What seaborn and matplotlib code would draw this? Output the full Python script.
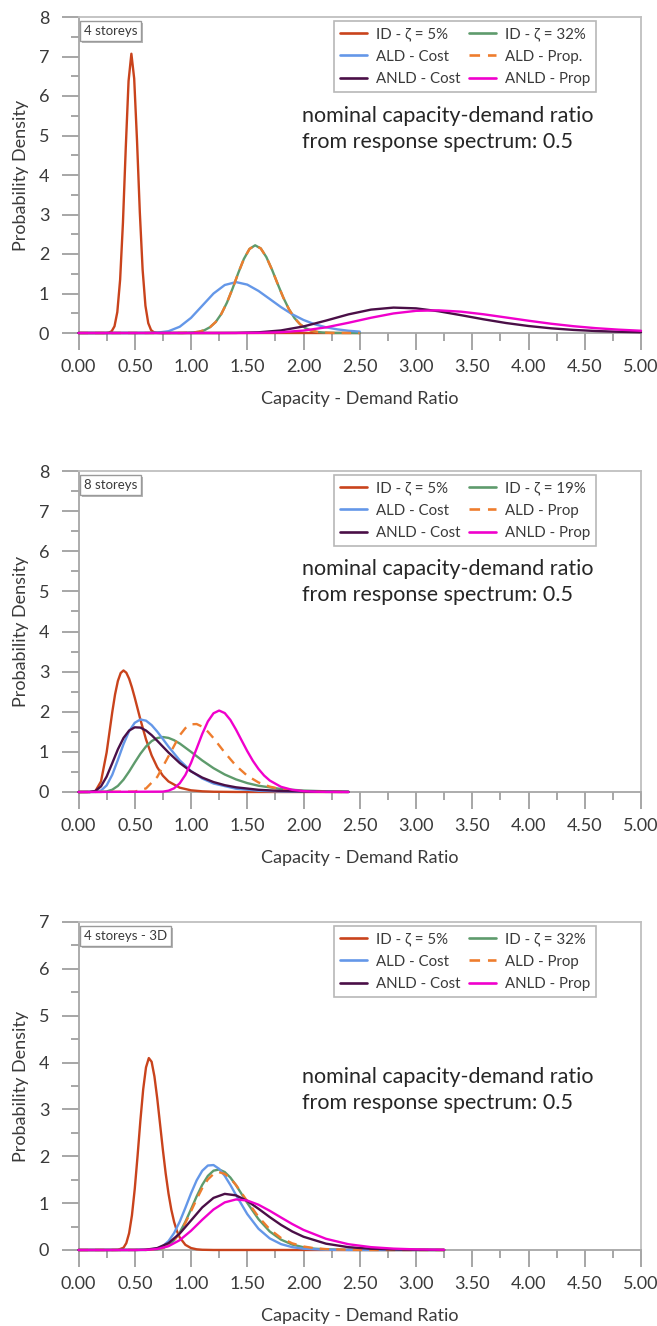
import matplotlib
matplotlib.use("Agg")
import matplotlib.pyplot as plt
import matplotlib.patheffects as pe
from matplotlib.lines import Line2D
from matplotlib.ticker import MultipleLocator, FormatStrFormatter
import seaborn as sns

sns.set_theme(style="white")
plt.rcParams["font.family"] = ["Lato", "DejaVu Sans"]

# ---------------- Panel 1: 4 storeys ----------------
p1_id5_x = [0.00, 0.245, 0.27, 0.295, 0.32, 0.345, 0.37, 0.395, 0.42, 0.445, 0.47, 0.495,
            0.52, 0.545, 0.57, 0.595, 0.62, 0.645, 0.67, 0.695, 0.72, 2.50]
p1_id5_y = [0, 0, 0.009, 0.045, 0.17, 0.53, 1.35, 2.79, 4.68, 6.38, 7.07, 6.44,
            4.88, 3.06, 1.60, 0.69, 0.25, 0.074, 0.018, 0.004, 0, 0]

p1_idhi_x = [0.00, 0.92, 0.97, 1.02, 1.07, 1.12, 1.17, 1.22, 1.27, 1.32, 1.37, 1.42, 1.47, 1.52,
             1.57, 1.62, 1.67, 1.72, 1.77, 1.82, 1.87, 1.92, 1.97, 2.02, 2.07, 2.12, 2.17, 2.22,
             2.27, 2.50]
p1_idhi_y = [0, 0.001, 0.005, 0.013, 0.032, 0.072, 0.149, 0.280, 0.485, 0.772, 1.129, 1.518,
             1.875, 2.128, 2.22, 2.141, 1.921, 1.604, 1.245, 0.900, 0.606, 0.378, 0.220, 0.119,
             0.060, 0.028, 0.012, 0.005, 0.002, 0]

p1_aldc_x = [0.0, 0.6, 0.7, 0.8, 0.9, 1.0, 1.1, 1.2, 1.3, 1.4, 1.5, 1.6, 1.7, 1.8, 1.9, 2.0,
             2.1, 2.2, 2.3, 2.4, 2.5]
p1_aldc_y = [0, 0.001, 0.008, 0.045, 0.159, 0.383, 0.691, 0.999, 1.215, 1.289, 1.225, 1.065,
             0.861, 0.655, 0.474, 0.330, 0.221, 0.144, 0.092, 0.057, 0.035]

p1_aldp_x = [0.00, 0.92, 0.97, 1.02, 1.07, 1.12, 1.17, 1.22, 1.27, 1.32, 1.37, 1.42, 1.47, 1.52,
             1.57, 1.62, 1.67, 1.72, 1.77, 1.82, 1.87, 1.92, 1.97, 2.02, 2.07, 2.12, 2.17, 2.22,
             2.27, 2.50]
p1_aldp_y = [0, 0.001, 0.005, 0.013, 0.032, 0.072, 0.149, 0.280, 0.485, 0.772, 1.129, 1.518,
             1.875, 2.128, 2.22, 2.141, 1.921, 1.604, 1.245, 0.900, 0.606, 0.378, 0.220, 0.119,
             0.060, 0.028, 0.012, 0.005, 0.002, 0]

p1_anldc_x = [0.0, 1.2, 1.4, 1.6, 1.8, 2.0, 2.2, 2.4, 2.6, 2.8, 3.0, 3.2, 3.4, 3.6, 3.8, 4.0,
              4.2, 4.4, 4.6, 4.8, 5.0]
p1_anldc_y = [0, 0.0003, 0.003, 0.017, 0.065, 0.166, 0.314, 0.472, 0.592, 0.643, 0.624, 0.551,
              0.451, 0.347, 0.253, 0.177, 0.119, 0.078, 0.050, 0.031, 0.019]

p1_anldp_x = [0.0, 1.4, 1.6, 1.8, 2.0, 2.2, 2.4, 2.6, 2.8, 3.0, 3.2, 3.4, 3.6, 3.8, 4.0, 4.2,
              4.4, 4.6, 4.8, 5.0]
p1_anldp_y = [0, 0.0005, 0.004, 0.020, 0.062, 0.143, 0.259, 0.386, 0.495, 0.561, 0.574, 0.540,
              0.474, 0.393, 0.311, 0.235, 0.172, 0.122, 0.085, 0.057]

# ---------------- Panel 2: 8 storeys ----------------
p2_id5_x = [0.00, 0.10, 0.15, 0.20, 0.25, 0.30, 0.325, 0.35, 0.375, 0.40, 0.425, 0.45, 0.475,
            0.50, 0.525, 0.55, 0.60, 0.65, 0.70, 0.75, 0.80, 0.90, 1.00, 1.10, 1.20, 1.40, 2.40]
p2_id5_y = [0, 0, 0.023, 0.263, 0.985, 1.988, 2.433, 2.767, 2.966, 3.029, 2.973, 2.823, 2.606,
            2.351, 2.080, 1.808, 1.312, 0.913, 0.616, 0.406, 0.263, 0.107, 0.042, 0.017, 0.0065,
            0.001, 0]

p2_idhi_x = [0.00, 0.20, 0.25, 0.30, 0.35, 0.40, 0.45, 0.50, 0.55, 0.60, 0.65, 0.70, 0.75, 0.80,
             0.85, 0.90, 1.00, 1.10, 1.20, 1.30, 1.40, 1.50, 1.60, 1.80, 2.00, 2.20, 2.40]
p2_idhi_y = [0, 0.002, 0.014, 0.057, 0.152, 0.307, 0.510, 0.736, 0.952, 1.135, 1.268, 1.345,
             1.370, 1.348, 1.291, 1.208, 1.001, 0.786, 0.594, 0.436, 0.314, 0.222, 0.156, 0.075,
             0.036, 0.017, 0.008]

p2_aldc_x = [0.00, 0.15, 0.20, 0.25, 0.30, 0.35, 0.40, 0.45, 0.50, 0.55, 0.60, 0.65, 0.70, 0.75,
             0.80, 0.90, 1.00, 1.10, 1.20, 1.40, 1.60, 1.80, 2.00, 2.40]
p2_aldc_y = [0, 0.003, 0.036, 0.164, 0.429, 0.800, 1.191, 1.516, 1.725, 1.807, 1.778, 1.667,
             1.505, 1.320, 1.131, 0.788, 0.522, 0.336, 0.212, 0.082, 0.031, 0.012, 0.005, 0.001]

p2_aldp_x = [0.00, 0.50, 0.60, 0.70, 0.80, 0.90, 0.95, 1.00, 1.05, 1.10, 1.15, 1.20, 1.30, 1.40,
             1.50, 1.60, 1.70, 1.80, 1.90, 2.00, 2.20, 2.40]
p2_aldp_y = [0, 0.009, 0.089, 0.375, 0.891, 1.414, 1.592, 1.686, 1.694, 1.628, 1.504, 1.343,
             0.982, 0.655, 0.406, 0.238, 0.134, 0.072, 0.038, 0.020, 0.005, 0.001]

p2_anldc_x = [0.00, 0.10, 0.15, 0.20, 0.25, 0.30, 0.35, 0.40, 0.45, 0.50, 0.55, 0.60, 0.65, 0.70,
              0.75, 0.80, 0.90, 1.00, 1.10, 1.20, 1.30, 1.40, 1.60, 1.80, 2.00, 2.20, 2.40]
p2_anldc_y = [0, 0.001, 0.026, 0.140, 0.384, 0.719, 1.063, 1.346, 1.531, 1.612, 1.605, 1.532,
              1.417, 1.277, 1.130, 0.984, 0.722, 0.514, 0.359, 0.248, 0.170, 0.117, 0.055, 0.026,
              0.012, 0.006, 0.003]

p2_anldp_x = [0.00, 0.75, 0.80, 0.85, 0.90, 0.95, 1.00, 1.05, 1.10, 1.15, 1.20, 1.25, 1.30, 1.35,
              1.40, 1.45, 1.50, 1.55, 1.60, 1.65, 1.70, 1.80, 1.90, 2.00, 2.10, 2.20, 2.40]
p2_anldp_y = [0, 0.009, 0.033, 0.093, 0.217, 0.426, 0.724, 1.082, 1.448, 1.759, 1.962, 2.030,
              1.967, 1.796, 1.555, 1.286, 1.019, 0.777, 0.574, 0.410, 0.286, 0.129, 0.054, 0.021,
              0.008, 0.003, 0]

# ---------------- Panel 3: 4 storeys - 3D ----------------
p3_id5_x = [0.00, 0.30, 0.35, 0.40, 0.425, 0.45, 0.475, 0.50, 0.525, 0.55, 0.575, 0.60, 0.625,
            0.65, 0.675, 0.70, 0.725, 0.75, 0.775, 0.80, 0.825, 0.85, 0.875, 0.90, 0.95, 1.00,
            1.05, 1.10, 1.20, 3.25]
p3_id5_y = [0, 0, 0.0025, 0.049, 0.147, 0.360, 0.740, 1.303, 2.007, 2.760, 3.428, 3.897, 4.096,
            4.017, 3.703, 3.233, 2.686, 2.137, 1.633, 1.205, 0.861, 0.598, 0.404, 0.267, 0.110,
            0.042, 0.015, 0.005, 0.0005, 0]

p3_idhi_x = [0.00, 0.60, 0.70, 0.75, 0.80, 0.85, 0.90, 0.95, 1.00, 1.05, 1.10, 1.15, 1.20, 1.25,
             1.30, 1.35, 1.40, 1.50, 1.60, 1.70, 1.80, 1.90, 2.00, 2.10, 2.20, 2.40, 2.60, 3.25]
p3_idhi_y = [0, 0.002, 0.014, 0.041, 0.101, 0.209, 0.377, 0.602, 0.868, 1.143, 1.391, 1.582,
             1.693, 1.718, 1.664, 1.546, 1.383, 1.006, 0.658, 0.395, 0.221, 0.116, 0.059, 0.028,
             0.013, 0.003, 0.0005, 0]

p3_aldc_x = [0.00, 0.60, 0.70, 0.75, 0.80, 0.85, 0.90, 0.95, 1.00, 1.05, 1.10, 1.15, 1.20, 1.25,
             1.30, 1.35, 1.40, 1.50, 1.60, 1.70, 1.80, 1.90, 2.00, 2.20, 2.40, 3.25]
p3_aldc_y = [0, 0.002, 0.031, 0.084, 0.189, 0.363, 0.606, 0.900, 1.208, 1.485, 1.691, 1.803,
             1.813, 1.732, 1.582, 1.388, 1.174, 0.767, 0.453, 0.247, 0.126, 0.061, 0.028, 0.005,
             0.001, 0]

p3_aldp_x = [0.00, 0.60, 0.70, 0.75, 0.80, 0.85, 0.90, 0.95, 1.00, 1.05, 1.10, 1.15, 1.20, 1.25,
             1.30, 1.35, 1.40, 1.50, 1.60, 1.70, 1.80, 1.90, 2.00, 2.10, 2.20, 2.40, 2.60, 3.25]
p3_aldp_y = [0, 0.002, 0.015, 0.043, 0.102, 0.206, 0.365, 0.577, 0.826, 1.084, 1.320, 1.506,
             1.622, 1.660, 1.625, 1.528, 1.387, 1.042, 0.707, 0.441, 0.257, 0.142, 0.075, 0.038,
             0.019, 0.004, 0.001, 0]

p3_anldc_x = [0.00, 0.50, 0.60, 0.70, 0.80, 0.90, 1.00, 1.10, 1.20, 1.30, 1.40, 1.50, 1.60, 1.70,
              1.80, 1.90, 2.00, 2.20, 2.40, 2.60, 2.80, 3.00, 3.25]
p3_anldc_y = [0, 0.0005, 0.007, 0.041, 0.147, 0.352, 0.630, 0.909, 1.112, 1.198, 1.166, 1.047,
              0.880, 0.702, 0.536, 0.395, 0.283, 0.135, 0.060, 0.026, 0.011, 0.004, 0.0015]

p3_anldp_x = [0.00, 0.50, 0.60, 0.70, 0.80, 0.90, 1.00, 1.10, 1.20, 1.30, 1.40, 1.50, 1.60, 1.70,
              1.80, 1.90, 2.00, 2.20, 2.40, 2.60, 2.80, 3.00, 3.25]
p3_anldp_y = [0, 0.0003, 0.003, 0.021, 0.081, 0.210, 0.410, 0.646, 0.864, 1.016, 1.079, 1.056,
              0.966, 0.837, 0.694, 0.554, 0.429, 0.239, 0.123, 0.061, 0.029, 0.013, 0.005]

# ---------------- Labels ----------------
x_ticks = [0.0, 0.5, 1.0, 1.5, 2.0, 2.5, 3.0, 3.5, 4.0, 4.5, 5.0]
p1_labels = {"id5": "ID - ζ = 5%", "idhi": "ID - ζ = 32%", "aldc": "ALD - Cost",
             "aldp": "ALD - Prop.", "anldc": "ANLD - Cost", "anldp": "ANLD - Prop"}
p2_labels = {"id5": "ID - ζ = 5%", "idhi": "ID - ζ = 19%", "aldc": "ALD - Cost",
             "aldp": "ALD - Prop", "anldc": "ANLD - Cost", "anldp": "ANLD - Prop"}
p3_labels = {"id5": "ID - ζ = 5%", "idhi": "ID - ζ = 32%", "aldc": "ALD - Cost",
             "aldp": "ALD - Prop", "anldc": "ANLD - Cost", "anldp": "ANLD - Prop"}
panel_titles = ["4 storeys", "8 storeys", "4 storeys - 3D"]
panel_ymax = [8, 8, 7]
note_text = "nominal capacity-demand ratio\nfrom response spectrum: 0.5"

STYLE = {
    "id5":   dict(color="#C9431C", dashes=None),
    "idhi":  dict(color="#5E9B6C", dashes=None),
    "aldc":  dict(color="#6497E8", dashes=None),
    "aldp":  dict(color="#EE7D2E", dashes=(4.0, 3.0)),
    "anldc": dict(color="#4A0F47", dashes=None),
    "anldp": dict(color="#F000CC", dashes=None),
}
DRAW_ORDER = ["id5", "idhi", "aldc", "aldp", "anldc", "anldp"]
LEGEND_ORDER = ["id5", "aldc", "anldc", "idhi", "aldp", "anldp"]

AXIS_GREY = "#A6A6A6"
TEXT_GREY = "#3A3A3A"
FIG_W, FIG_H = 657, 1326

fig = plt.figure(figsize=(FIG_W / 100, FIG_H / 100), dpi=100)

# axes rectangles in pixels: (left, top, right, bottom) and vertical centre of the note
rects_px = [(78.5, 17, 641, 333), (78.5, 471, 641, 792), (78.5, 922, 641, 1250)]
note_centre_px = [129, 582, 1090]

panels = [
    ({"id5": (p1_id5_x, p1_id5_y), "idhi": (p1_idhi_x, p1_idhi_y), "aldc": (p1_aldc_x, p1_aldc_y),
      "aldp": (p1_aldp_x, p1_aldp_y), "anldc": (p1_anldc_x, p1_anldc_y),
      "anldp": (p1_anldp_x, p1_anldp_y)}, p1_labels),
    ({"id5": (p2_id5_x, p2_id5_y), "idhi": (p2_idhi_x, p2_idhi_y), "aldc": (p2_aldc_x, p2_aldc_y),
      "aldp": (p2_aldp_x, p2_aldp_y), "anldc": (p2_anldc_x, p2_anldc_y),
      "anldp": (p2_anldp_x, p2_anldp_y)}, p2_labels),
    ({"id5": (p3_id5_x, p3_id5_y), "idhi": (p3_idhi_x, p3_idhi_y), "aldc": (p3_aldc_x, p3_aldc_y),
      "aldp": (p3_aldp_x, p3_aldp_y), "anldc": (p3_anldc_x, p3_anldc_y),
      "anldp": (p3_anldp_x, p3_anldp_y)}, p3_labels),
]

for (curves, labels), (l, t, r, b), title, ymax, note_y in zip(
        panels, rects_px, panel_titles, panel_ymax, note_centre_px):
    ax = fig.add_axes([l / FIG_W, 1 - b / FIG_H, (r - l) / FIG_W, (b - t) / FIG_H])
    h_px = b - t
    w_px = r - l

    for key in DRAW_ORDER:
        xs, ys = curves[key]
        st = STYLE[key]
        sns.lineplot(x=xs, y=ys, ax=ax, color=st["color"], linewidth=1.7, sort=False,
                     estimator=None, legend=False, zorder=3, clip_on=False)
        line = ax.lines[-1]
        if st["dashes"] is not None:
            line.set_dashes(st["dashes"])

    ax.set_xlim(0, 5)
    ax.set_ylim(0, ymax)
    ax.set_xticks(x_ticks)
    ax.xaxis.set_minor_locator(MultipleLocator(0.25))
    ax.xaxis.set_major_formatter(FormatStrFormatter("%.2f"))
    ax.yaxis.set_major_locator(MultipleLocator(1))
    ax.yaxis.set_minor_locator(MultipleLocator(0.5))
    ax.tick_params(axis="both", which="both", bottom=True, left=True, top=False, right=False,
                   direction="out", color=AXIS_GREY, width=1.4)
    ax.tick_params(axis="both", which="major", length=12, labelsize=13, labelcolor=TEXT_GREY)
    ax.tick_params(axis="both", which="minor", length=6)
    ax.tick_params(axis="x", which="major", pad=7)
    ax.tick_params(axis="y", which="major", pad=9)
    for name, sp in ax.spines.items():
        sp.set_visible(True)
        sp.set_color("#BFBFBF" if name in ("top", "right") else AXIS_GREY)
        sp.set_linewidth(1.3)

    ax.set_ylabel("Probability Density", fontsize=13, color=TEXT_GREY)
    ax.yaxis.set_label_coords(-0.088, 0.5)
    ax.set_xlabel("Capacity - Demand Ratio", fontsize=13, color=TEXT_GREY)
    ax.xaxis.label.set_va("center")
    ax.xaxis.set_label_coords(0.5, -66 / h_px)

    handles = []
    for k in LEGEND_ORDER:
        hdl = Line2D([], [], color=STYLE[k]["color"], linewidth=1.9)
        if STYLE[k]["dashes"] is not None:
            hdl.set_dashes(STYLE[k]["dashes"])
        handles.append(hdl)
    leg = ax.legend(handles, [labels[k] for k in LEGEND_ORDER], ncol=2, loc="upper right",
                    bbox_to_anchor=((596 - l) / w_px, 1 - 4 / h_px), frameon=True,
                    fancybox=False, edgecolor=AXIS_GREY, fontsize=10.8, handlelength=1.8,
                    columnspacing=0.55, labelspacing=0.58, borderpad=0.4, handletextpad=0.6,
                    borderaxespad=0)
    leg.get_frame().set_linewidth(1.2)
    for txt in leg.get_texts():
        txt.set_color(TEXT_GREY)

    tb = ax.text(5 / w_px, 1 - 8 / h_px, title, transform=ax.transAxes, ha="left",
                 va="top", fontsize=9.5, color=TEXT_GREY,
                 bbox=dict(boxstyle="square,pad=0.3", fc="white", ec="#9A9A9A", lw=1.0))
    tb.get_bbox_patch().set_path_effects(
        [pe.withSimplePatchShadow(offset=(1.5, -1.5), shadow_rgbFace="#888888", alpha=0.6)])

    ax.text((302 - l) / w_px, (b - note_y) / h_px, note_text, transform=ax.transAxes,
            ha="left", va="center", fontsize=15.5, color="#262626", linespacing=1.4)

fig.savefig("out.png", dpi=100)
